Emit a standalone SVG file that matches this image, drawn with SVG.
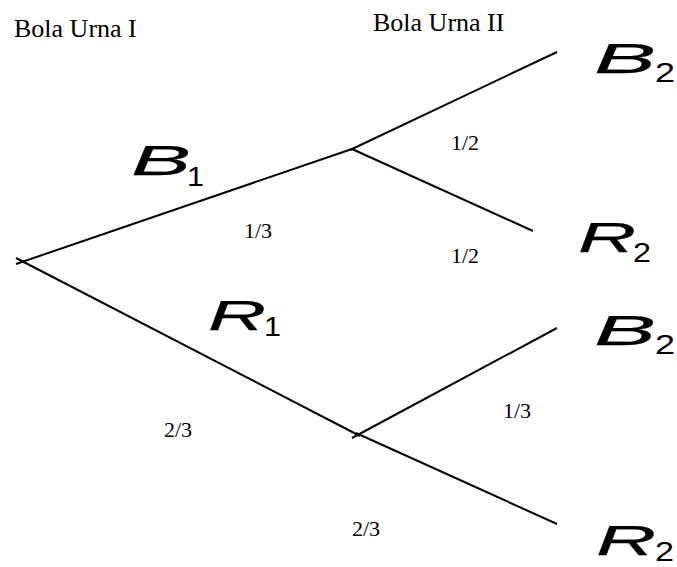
<svg xmlns="http://www.w3.org/2000/svg" width="677" height="567" viewBox="0 0 677 567">
<style>
.hdr{font-family:"Liberation Serif","Times New Roman",serif;font-size:26px;fill:#000}
.p{font-family:"Liberation Serif","Times New Roman",serif;font-size:22px;fill:#000}
.v{font-family:"Liberation Sans",Arial,sans-serif;font-style:italic;font-size:42px;fill:#000;stroke:#000;stroke-width:0.25}
.s{font-family:"Liberation Sans",Arial,sans-serif;font-size:28px;fill:#000}
.e{stroke:#000;stroke-width:2;fill:none}
</style>
<rect width="677" height="567" fill="#fff"/>
<text class="hdr" x="14" y="37">Bola Urna I</text>
<text class="hdr" x="373" y="31">Bola Urna II</text>
<g id="connectors">
<line class="e" x1="16" y1="264" x2="352" y2="149"/>
<line class="e" x1="16" y1="258" x2="360" y2="436"/>
<line class="e" x1="350" y1="150" x2="557" y2="52"/>
<line class="e" x1="352" y1="149" x2="533" y2="231"/>
<line class="e" x1="352" y1="438" x2="557" y2="328"/>
<line class="e" x1="356" y1="433" x2="557" y2="524"/>
</g>
<g id="labels">
<text class="p" x="451" y="150">1/2</text>
<text class="p" x="244" y="238">1/3</text>
<text class="p" x="451" y="263">1/2</text>
<text class="p" x="164" y="437">2/3</text>
<text class="p" x="503" y="418">1/3</text>
<text class="p" x="352" y="536">2/3</text>
</g>
<g id="B1"><text class="v" x="131" y="175" textLength="60" lengthAdjust="spacingAndGlyphs">B</text><text class="s" x="187" y="186" textLength="17" lengthAdjust="spacingAndGlyphs">1</text></g>
<g id="R1"><text class="v" x="208" y="330" textLength="58" lengthAdjust="spacingAndGlyphs">R</text><text class="s" x="264" y="336" textLength="17" lengthAdjust="spacingAndGlyphs">1</text></g>
<g id="B2a"><text class="v" x="594" y="73" textLength="62" lengthAdjust="spacingAndGlyphs">B</text><text class="s" x="655" y="82" textLength="20" lengthAdjust="spacingAndGlyphs">2</text></g>
<g id="R2a"><text class="v" x="578" y="252" textLength="58" lengthAdjust="spacingAndGlyphs">R</text><text class="s" x="633" y="262" textLength="18" lengthAdjust="spacingAndGlyphs">2</text></g>
<g id="B2b"><text class="v" x="594" y="345" textLength="62" lengthAdjust="spacingAndGlyphs">B</text><text class="s" x="655" y="354" textLength="20" lengthAdjust="spacingAndGlyphs">2</text></g>
<g id="R2b"><text class="v" x="596" y="555" textLength="60" lengthAdjust="spacingAndGlyphs">R</text><text class="s" x="655" y="561" textLength="19" lengthAdjust="spacingAndGlyphs">2</text></g>
</svg>
